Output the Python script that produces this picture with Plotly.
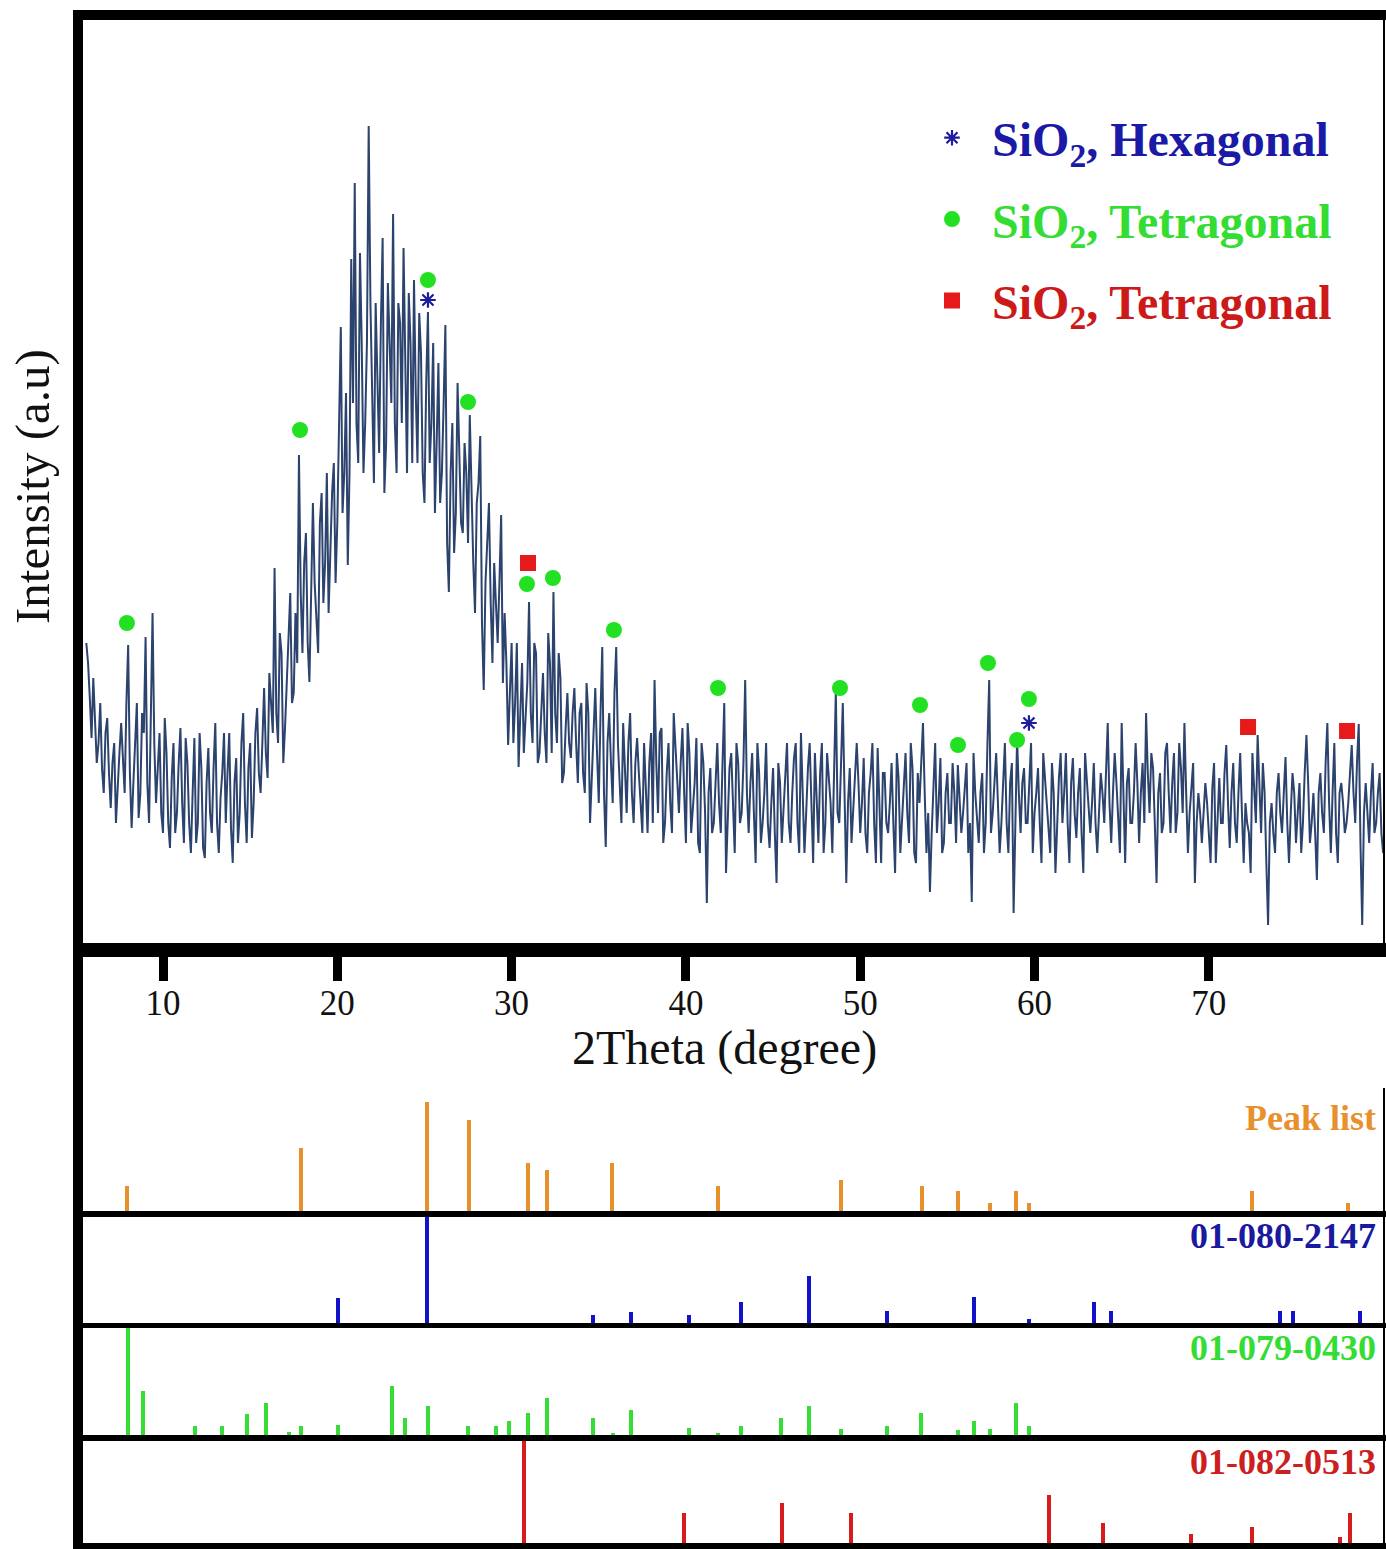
import plotly.graph_objects as go

W, H = 1386, 1549

# ---------------- XRD scan ----------------
# intensities at 5.6, 5.8, ... 80.0 deg (even grid)
scan_start = 5.6
scan_step = 0.1
intensity_even = [
    300, 245, 265, 180, 240, 150, 225, 135, 200, 160,
    220, 150, 298, 115, 205, 125, 230, 306, 120, 330,
    140, 210, 110, 190, 95, 200, 130, 215, 100, 180,
    90, 205, 120, 175, 85, 195, 110, 220, 90, 170,
    120, 210, 80, 185, 130, 230, 100, 200, 140, 235,
    150, 255, 165, 240, 375, 200, 290, 215, 320, 240,
    330, 488, 290, 410, 261, 440, 330, 420, 340, 470,
    390, 480, 420, 616, 470, 378, 684, 760, 480, 600,
    520, 817, 560, 640, 490, 705, 500, 600, 729, 470,
    620, 695, 470, 600, 663, 480, 590, 440, 631, 520,
    430, 580, 470, 618, 351, 520, 430, 490, 410, 470,
    528, 380, 440, 507, 253, 400, 340, 380, 300, 428,
    330, 198, 300, 240, 176, 280, 220, 341, 200, 290,
    190, 270, 180, 280, 351, 200, 265, 170, 250, 185,
    255, 160, 240, 150, 230, 170, 255, 140, 296, 96,
    230, 140, 296, 150, 220, 130, 230, 120, 205, 140,
    200, 110, 210, 263, 130, 215, 120, 200, 110, 195,
    130, 215, 100, 190, 140, 205, 90, 180, 40, 175,
    120, 200, 110, 240, 120, 190, 90, 180, 130, 263,
    110, 190, 80, 170, 120, 200, 95, 175, 60, 160,
    130, 200, 100, 185, 120, 210, 90, 175, 130, 190,
    100, 200, 120, 165, 90, 251, 120, 240, 60, 175,
    130, 200, 110, 185, 90, 170, 120, 195, 80, 170,
    110, 180, 70, 165, 120, 190, 100, 175, 80, 140,
    220, 90, 51, 160, 110, 185, 100, 170, 120, 150,
    178, 110, 160, 90, 41, 150, 100, 170, 120, 263,
    130, 190, 90, 170, 120, 160, 30, 205, 110, 175,
    120, 200, 130, 175, 80, 165, 110, 180, 70, 165,
    120, 190, 80, 185, 105, 175, 70, 160, 110, 180,
    90, 170, 120, 220, 100, 190, 130, 220, 80, 175,
    120, 200, 100, 180, 230, 130, 175, 60, 170, 120,
    200, 110, 190, 130, 175, 220, 90, 160, 60, 150,
    100, 160, 110, 155, 80, 165, 120, 198, 95, 180,
    100, 190, 80, 120, 70, 160, 208, 110, 150, 18,
    140, 90, 170, 110, 186, 80, 170, 100, 160, 120,
    208, 100, 150, 63, 170, 110, 220, 90, 200, 80,
    160, 110, 140, 198, 120, 219, 18, 160, 100, 180,
    120, 170, 90,
]
# intensities at 5.7, 5.9, ... 79.9 deg (odd grid)
intensity_odd = [
    280, 205, 230, 200, 175, 210, 170, 180, 120, 190,
    180, 240, 170, 160, 240, 150, 210, 160, 250, 200,
    175, 130, 225, 120, 165, 110, 180, 140, 205, 120,
    150, 100, 210, 95, 160, 130, 175, 120, 145, 210,
    170, 115, 160, 100, 200, 140, 175, 105, 210, 170,
    200, 190, 270, 210, 230, 310, 180, 260, 350, 250,
    280, 350, 380, 300, 370, 360, 290, 450, 380, 330,
    450, 360, 520, 430, 550, 470, 540, 520, 690, 470,
    600, 640, 460, 560, 620, 450, 660, 540, 520, 640,
    520, 560, 650, 480, 550, 630, 470, 560, 480, 600,
    500, 440, 540, 400, 470, 390, 560, 420, 500, 400,
    450, 330, 460, 320, 360, 440, 280, 330, 360, 260,
    280, 250, 200, 300, 230, 190, 260, 230, 300, 180,
    230, 210, 310, 190, 230, 290, 160, 215, 200, 230,
    200, 230, 170, 260, 120, 220, 190, 230, 150, 200,
    180, 250, 200, 120, 175, 200, 150, 180, 170, 110,
    160, 180, 120, 180, 210, 100, 170, 140, 230, 150,
    180, 150, 220, 110, 160, 100, 200, 130, 150, 110,
    160, 140, 180, 70, 175, 140, 200, 120, 180, 150,
    160, 130, 200, 100, 150, 120, 140, 110, 180, 100,
    170, 120, 150, 200, 90, 150, 130, 200, 80, 140,
    170, 90, 190, 140, 170, 130, 180, 150, 140, 100,
    170, 160, 140, 110, 150, 200, 80, 140, 170, 120,
    140, 120, 190, 90, 160, 130, 200, 90, 170, 180,
    150, 130, 110, 200, 140, 90, 150, 120, 180, 100,
    140, 130, 180, 120, 190, 120, 150, 90, 200, 110,
    160, 140, 120, 200, 90, 180, 140, 150, 160, 120,
    160, 90, 150, 120, 190, 140, 90, 150, 120, 190,
    150, 120, 160, 130, 150, 110, 190, 130, 140, 120,
    130, 150, 170, 140, 150, 160, 90, 140, 160, 120,
    150, 160, 150, 120, 170, 190, 120, 150, 110, 190,
    150, 160, 110, 200, 130, 150, 130, 180, 120, 130,
    130, 140, 80, 180, 130, 120, 170, 140, 150, 120,
    150, 130, 140, 110, 190, 120, 150, 180, 80, 120,
    110, 150, 130, 150, 120, 130, 150, 130, 90, 170,
    160, 120, 110, 150, 130, 180, 140, 150, 110, 150,
    140, 120, 170, 150, 180, 100, 130, 130, 150, 110,
    150, 110,
]
intensity = []
for a, b in zip(intensity_even, intensity_odd):
    intensity += [a, b]
intensity.append(intensity_even[-1])
two_theta = [round(scan_start + scan_step * i, 2) for i in range(len(intensity))]

# ---------------- phase markers on the pattern ----------------
hex_x = [25.2, 59.68]
hex_y = [643, 220]
tetg_x = [7.93, 17.86, 25.2, 27.5, 30.88, 32.37, 35.87, 41.84, 48.84, 53.43, 55.61, 57.33, 59.0, 59.68]
tetg_y = [320, 513, 663, 541, 359, 365, 313, 255, 255, 238, 198, 280, 203, 244]
tetr_x = [30.94, 72.25, 77.93]
tetr_y = [380, 216, 212]

# ---------------- stick patterns (relative intensity, %) ----------------
peak_x = [7.93, 17.92, 25.15, 27.56, 30.94, 32.03, 35.76, 41.84, 48.90, 53.55, 55.61, 57.45, 58.94, 59.68, 72.48, 77.99]
peak_h = [24, 59, 100, 84, 45, 39, 45, 24, 30, 24, 20, 9, 20, 9, 20, 9]

hexref_x = [20.04, 25.15, 34.67, 36.85, 40.18, 43.16, 47.06, 51.54, 56.53, 59.68, 63.41, 64.39, 74.09, 74.83, 78.68]
hexref_h = [25, 100, 9, 12, 9, 21, 45, 13, 26, 6, 21, 13, 13, 13, 13]

tetg_ref_x = [7.99, 8.85, 11.84, 13.38, 14.82, 15.91, 17.23, 17.92, 20.04, 23.14, 23.88, 25.2, 27.5, 29.1,
              29.85, 30.94, 32.03, 34.67, 35.82, 36.85, 40.18, 41.84, 43.16, 45.46, 47.06, 48.90, 51.54,
              53.49, 55.61, 56.53, 57.45, 58.94, 59.68]
tetg_ref_h = [100, 42, 10, 10, 21, 31, 5, 10, 11, 47, 17, 28, 10, 10,
              15, 22, 36, 17, 4, 25, 8, 4, 10, 17, 28, 7, 10,
              22, 6, 15, 7, 31, 10]

tetr_ref_x = [30.71, 39.89, 45.51, 49.47, 60.83, 63.93, 68.98, 72.48, 77.53, 78.10]
tetr_ref_h = [100, 31, 40, 31, 48, 21, 11, 17, 8, 31]

x_ticks = [10, 20, 30, 40, 50, 60, 70]

labels = ["Peak list", "01-080-2147", "01-079-0430", "01-082-0513"]

# ---------------- styles ----------------
SERIF = "Liberation Serif"
c_line = "#2c436e"
c_green = "#22e022"
c_red = "#e61a1a"
c_blue = "#1d1d9c"
c_orange = "#e8902c"
c_stick_blue = "#1212c8"
c_stick_green = "#35dd35"
c_stick_red = "#d81c1c"


def px(x):
    return x / W


def py(y):
    return 1 - y / H


fig = go.Figure()

fig.add_trace(go.Scatter(x=two_theta, y=intensity, mode="lines",
                         line=dict(color=c_line, width=2.0), showlegend=False,
                         xaxis="x", yaxis="y"))

fig.add_trace(go.Scatter(x=hex_x, y=hex_y, mode="markers",
                         marker=dict(symbol="asterisk-open", size=13, color=c_blue,
                                     line=dict(color=c_blue, width=2.2)),
                         name='<span style="color:#1a1aa6">SiO<sub>2</sub>, Hexagonal</span>',
                         legendgroup="a", xaxis="x", yaxis="y"))
fig.add_trace(go.Scatter(x=tetg_x, y=tetg_y, mode="markers",
                         marker=dict(symbol="circle", size=16, color=c_green),
                         name='<span style="color:#33dd33">SiO<sub>2</sub>, Tetragonal</span>',
                         legendgroup="b", xaxis="x", yaxis="y"))
fig.add_trace(go.Scatter(x=tetr_x, y=tetr_y, mode="markers",
                         marker=dict(symbol="square", size=16, color=c_red),
                         name='<span style="color:#cc1a1a">SiO<sub>2</sub>, Tetragonal</span>',
                         legendgroup="c", xaxis="x", yaxis="y"))

stick_sets = [
    (peak_x, peak_h, c_orange, "y2"),
    (hexref_x, hexref_h, c_stick_blue, "y3"),
    (tetg_ref_x, tetg_ref_h, c_stick_green, "y4"),
    (tetr_ref_x, tetr_ref_h, c_stick_red, "y5"),
]
for xs, hs, col, ya in stick_sets:
    fig.add_trace(go.Bar(x=xs, y=hs, width=0.26, marker=dict(color=col, line=dict(width=0)),
                         showlegend=False, xaxis="x2", yaxis=ya))

xr = [5.123, 80.05]
xdom = [px(78), px(1384)]

fig.update_layout(
    width=W, height=H,
    margin=dict(l=0, r=0, t=0, b=0),
    paper_bgcolor="white", plot_bgcolor="rgba(0,0,0,0)",
    bargap=0, barmode="overlay",
    xaxis=dict(domain=xdom, range=xr, anchor="y", tickvals=x_ticks,
               ticks="outside", ticklen=30, tickwidth=9, tickcolor="black",
               ticklabelstandoff=-8,
               showline=False, showgrid=False, zeroline=False,
               tickfont=dict(family=SERIF, size=35, color="#111111")),
    yaxis=dict(domain=[py(950), py(15)], range=[-7, 928], anchor="x",
               showticklabels=False, ticks="", showgrid=False, zeroline=False, showline=False),
    xaxis2=dict(domain=xdom, range=xr, anchor="y5", matches="x", visible=False),
    yaxis2=dict(domain=[py(1213), py(1102)], range=[0, 100], anchor="x2", visible=False),
    yaxis3=dict(domain=[py(1325), py(1217)], range=[0, 100], anchor="x2", visible=False),
    yaxis4=dict(domain=[py(1437), py(1328)], range=[0, 100], anchor="x2", visible=False),
    yaxis5=dict(domain=[py(1545), py(1441)], range=[0, 100], anchor="x2", visible=False),
    legend=dict(x=px(912), y=py(100), xanchor="left", yanchor="top",
                bgcolor="rgba(0,0,0,0)", tracegroupgap=16, itemsizing="trace", itemwidth=70,
                font=dict(family=SERIF, size=48, weight="bold")),
    showlegend=True,
)

shapes = []


def rect(x0, y0, x1, y1):
    shapes.append(dict(type="rect", xref="paper", yref="paper",
                       x0=px(x0), x1=px(x1), y0=py(y1), y1=py(y0),
                       fillcolor="black", line=dict(width=0), layer="above"))


rect(73, 10, 83, H)          # left thick border
rect(73, 10, W, 20)          # top border
rect(73, 943, W, 957)        # bottom axis of the pattern
rect(1383, 10, 1385, 957)    # right thin border (top panel)
rect(1383, 1088, 1385, H)    # right thin border (stick panels)
rect(73, 1211, W, 1217)
rect(73, 1323, W, 1328)
rect(73, 1435, W, 1441)
rect(73, 1543, W, H)
fig.update_layout(shapes=shapes)

label_colors = [c_orange, "#1a1aa0", "#33dd33", "#cc2020"]
label_y = [1118, 1236, 1348, 1462]
ann = []
for t, c, yy in zip(labels, label_colors, label_y):
    ann.append(dict(text=t, xref="paper", yref="paper", x=px(1378), y=py(yy),
                    xanchor="right", yanchor="middle", showarrow=False,
                    font=dict(family=SERIF, size=36, color=c, weight="bold")))
ann.append(dict(text="2Theta (degree)", xref="paper", yref="paper", x=px(725), y=py(1048),
                xanchor="center", yanchor="middle", showarrow=False,
                font=dict(family=SERIF, size=48, color="#111111")))
ann.append(dict(text="Intensity (a.u)", xref="paper", yref="paper", x=px(33), y=py(487),
                xanchor="center", yanchor="middle", showarrow=False, textangle=-90,
                font=dict(family=SERIF, size=49, color="#111111")))
fig.update_layout(annotations=ann)

fig.write_html("out.html", config={"displayModeBar": False},
               post_script="document.body.style.margin='0px';document.body.style.overflow='hidden';")
